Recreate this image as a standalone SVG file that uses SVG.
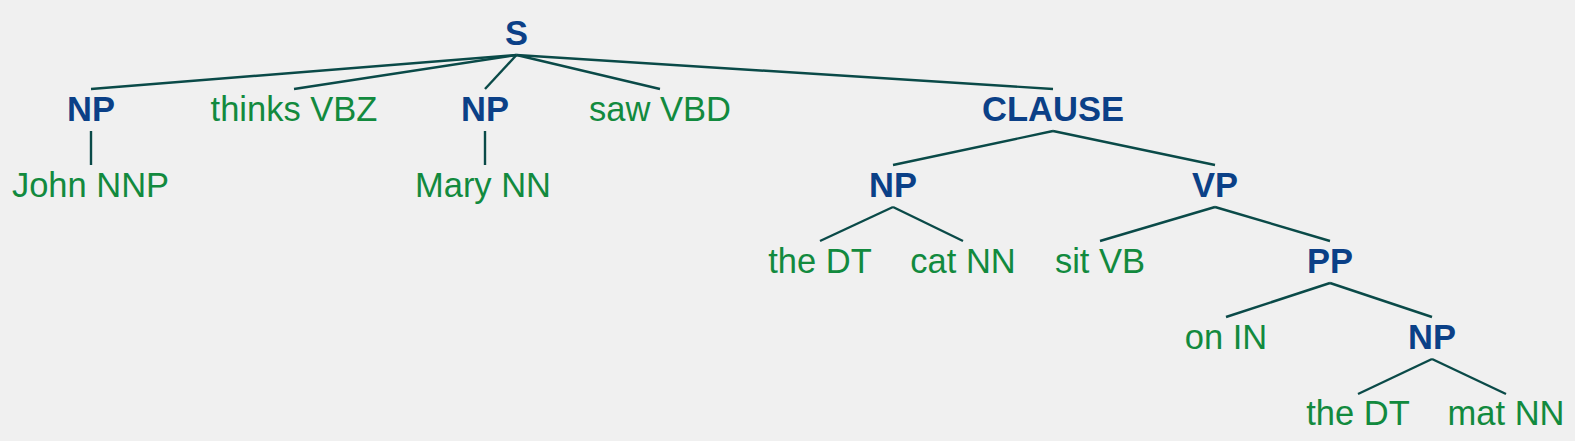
<svg xmlns="http://www.w3.org/2000/svg" width="1575" height="441" viewBox="0 0 1575 441">
<style>
text{font-family:"Liberation Sans",Arial,sans-serif;font-size:34.5px;text-anchor:middle}
.c{font-weight:bold;fill:#0b4087}
.w{fill:#128a3e}
.e{stroke:#0a4a48;stroke-width:2.4;fill:none}
</style>
<rect width="1575" height="441" fill="#f0f0f0"/>
<g id="connectors" class="e">
<path d="M516.5 55 L91 89"/>
<path d="M516.5 55 L294 89"/>
<path d="M516.5 55 L485 89"/>
<path d="M516.5 55 L660 89"/>
<path d="M516.5 55 L1053 89"/>
<path d="M91 131 L91 165"/>
<path d="M485 131 L485 165"/>
<path d="M1053 131 L893 165"/>
<path d="M1053 131 L1215 165"/>
<path d="M893 207 L820 241"/>
<path d="M893 207 L963 241"/>
<path d="M1215 207 L1100 241"/>
<path d="M1215 207 L1330 241"/>
<path d="M1330 283 L1226 317"/>
<path d="M1330 283 L1432 317"/>
<path d="M1432 359 L1358 394"/>
<path d="M1432 359 L1506 394"/>
</g>
<g id="n-S"><text class="c" x="516.5" y="45">S</text></g>
<g id="n-NP1"><text class="c" x="91" y="121">NP</text></g>
<g id="n-thinks"><text class="w" x="294" y="121">thinks VBZ</text></g>
<g id="n-NP2"><text class="c" x="485" y="121">NP</text></g>
<g id="n-saw"><text class="w" x="660" y="121">saw VBD</text></g>
<g id="n-CLAUSE"><text class="c" x="1053" y="121">CLAUSE</text></g>
<g id="n-John"><text class="w" x="90.5" y="197">John NNP</text></g>
<g id="n-Mary"><text class="w" x="483" y="197">Mary NN</text></g>
<g id="n-NP3"><text class="c" x="893" y="197">NP</text></g>
<g id="n-VP"><text class="c" x="1215" y="197">VP</text></g>
<g id="n-the1"><text class="w" x="820" y="273">the DT</text></g>
<g id="n-cat"><text class="w" x="963" y="273">cat NN</text></g>
<g id="n-sit"><text class="w" x="1100" y="273">sit VB</text></g>
<g id="n-PP"><text class="c" x="1330" y="273">PP</text></g>
<g id="n-on"><text class="w" x="1226" y="349">on IN</text></g>
<g id="n-NP4"><text class="c" x="1432" y="349">NP</text></g>
<g id="n-the2"><text class="w" x="1358" y="425">the DT</text></g>
<g id="n-mat"><text class="w" x="1506" y="425">mat NN</text></g>
</svg>
